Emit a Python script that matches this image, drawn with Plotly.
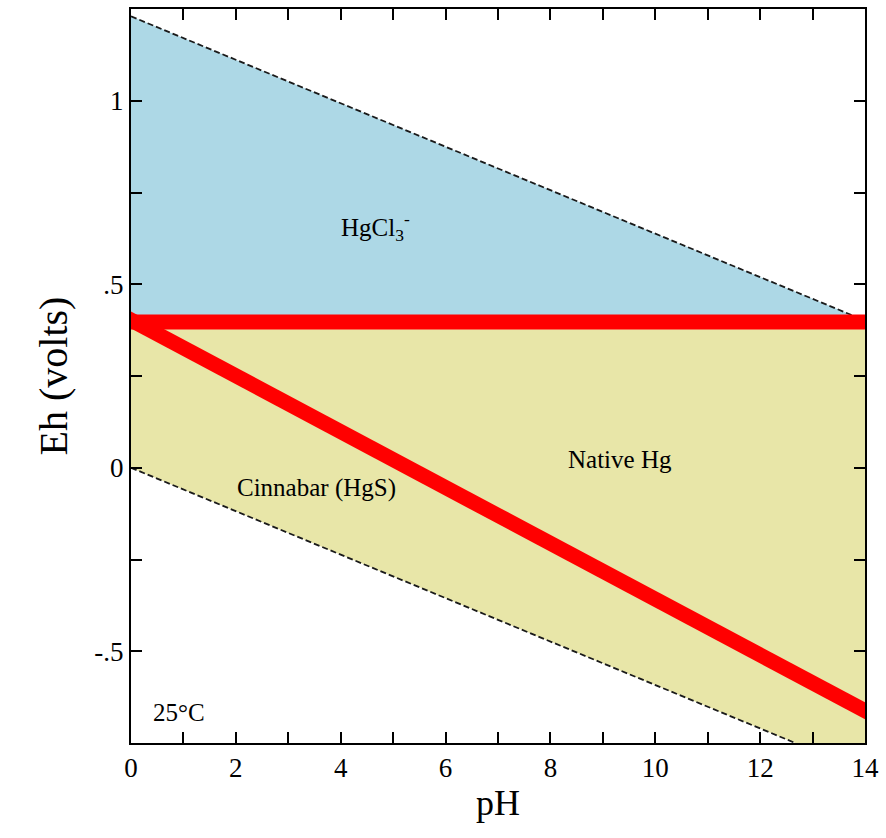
import plotly.graph_objects as go

# --- data ---
ph_upper = [0.0, 14.0]
eh_upper = [1.23, 0.401]          # upper water stability line (dashed)
ph_lower = [0.0, 12.67]
eh_lower = [0.0, -0.75]           # lower water stability line (dashed)
ph_hg = [0.0, 14.15]
eh_hg = [0.397, 0.397]            # HgCl3- / native Hg boundary (red)
ph_cin = [-0.1, 14.1]
eh_cin = [0.41, -0.67]            # cinnabar / native Hg boundary (red)

blue_x = [0.0, 0.0, 14.0, 14.0]
blue_y = [0.397, 1.23, 0.401, 0.397]
yellow_x = [0.0, 14.0, 14.0, 12.67, 0.0]
yellow_y = [0.397, 0.397, -0.75, -0.75, 0.0]

labels = ["HgCl<sub>3</sub><sup>-</sup>", "Cinnabar (HgS)", "Native Hg", "25°C"]
label_x = [4.66, 3.54, 9.32, 0.91]
label_y = [0.656, -0.054, 0.022, -0.667]

x_ticks = list(range(0, 15))
x_text = [str(v) if v % 2 == 0 else " " for v in x_ticks]
y_ticks = [-0.5, -0.25, 0.0, 0.25, 0.5, 0.75, 1.0]
y_text = ["-.5", " ", "0", " ", ".5", " ", "1"]

FONT = "Liberation Serif"

fig = go.Figure()
fig.add_trace(go.Scatter(x=blue_x, y=blue_y, fill="toself", fillcolor="#ADD8E6",
                         line=dict(width=0), mode="lines", hoverinfo="skip"))
fig.add_trace(go.Scatter(x=yellow_x, y=yellow_y, fill="toself", fillcolor="#E8E6A8",
                         line=dict(width=0), mode="lines", hoverinfo="skip"))
fig.add_trace(go.Scatter(x=ph_upper, y=eh_upper, mode="lines",
                         line=dict(color="#1a1a1a", width=1.8, dash="6px,3px")))
fig.add_trace(go.Scatter(x=ph_lower, y=eh_lower, mode="lines",
                         line=dict(color="#1a1a1a", width=1.8, dash="6px,3px")))
fig.add_trace(go.Scatter(x=ph_hg, y=eh_hg, mode="lines",
                         line=dict(color="#FF0000", width=15)))
fig.add_trace(go.Scatter(x=ph_cin, y=eh_cin, mode="lines",
                         line=dict(color="#FF0000", width=15)))

for t, xv, yv in zip(labels, label_x, label_y):
    fig.add_annotation(x=xv, y=yv, text=t, showarrow=False,
                       font=dict(family=FONT, size=25, color="black"))

fig.update_layout(
    width=886, height=838,
    margin=dict(l=131, r=19, t=7, b=95),
    paper_bgcolor="white", plot_bgcolor="white",
    showlegend=False,
    font=dict(family=FONT, color="black"),
)
fig.update_xaxes(range=[0, 14], tickvals=x_ticks, ticktext=x_text,
                 ticks="inside", ticklen=11, tickwidth=2, tickcolor="black",
                 showline=True, linecolor="black", linewidth=2, mirror="ticks",
                 showgrid=False, zeroline=False,
                 tickfont=dict(family=FONT, size=27),
                 title=dict(text="pH", font=dict(family=FONT, size=36), standoff=6))
fig.update_yaxes(range=[-0.75, 1.25], tickvals=y_ticks, ticktext=y_text,
                 ticks="inside", ticklen=11, tickwidth=2, tickcolor="black",
                 showline=True, linecolor="black", linewidth=2, mirror="ticks",
                 showgrid=False, zeroline=False,
                 tickfont=dict(family=FONT, size=27),
                 title=dict(text="Eh (volts)", font=dict(family=FONT, size=40), standoff=14))

fig.write_html("out.html")
